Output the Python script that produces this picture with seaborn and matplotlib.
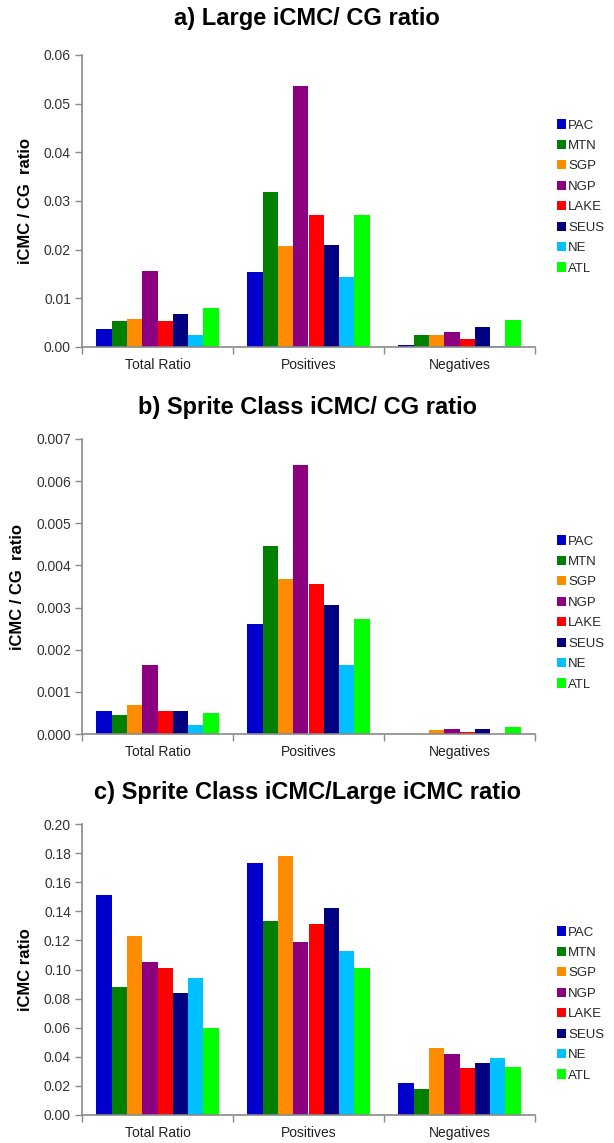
import matplotlib
matplotlib.use("Agg")
import matplotlib.pyplot as plt
import seaborn as sns
import pandas as pd
from matplotlib.ticker import FixedLocator, FormatStrFormatter, MultipleLocator

sns.set_theme(style="white")
plt.rcParams['font.family'] = ['Liberation Sans', 'DejaVu Sans']

categories = ["Total Ratio", "Positives", "Negatives"]
regions = ["PAC", "MTN", "SGP", "NGP", "LAKE", "SEUS", "NE", "ATL"]
colors = ["#0000CC", "#008000", "#FF8C00", "#8C007F", "#FF0000", "#000080", "#00C0FF", "#00FF00"]

# a) Large iCMC / CG ratio
large_total = [0.0036, 0.0054, 0.0057, 0.0157, 0.0053, 0.0067, 0.0024, 0.0081]
large_pos = [0.0154, 0.0318, 0.0207, 0.0536, 0.0272, 0.0210, 0.0144, 0.0272]
large_neg = [0.0004, 0.0024, 0.0024, 0.0031, 0.0017, 0.0042, 0.0003, 0.0056]

# b) Sprite Class iCMC / CG ratio
sprite_total = [0.00055, 0.00046, 0.00069, 0.00164, 0.00055, 0.00055, 0.00022, 0.00051]
sprite_pos = [0.00261, 0.00447, 0.00368, 0.00638, 0.00357, 0.00305, 0.00163, 0.00274]
sprite_neg = [0.0, 0.0, 0.00009, 0.00013, 0.00005, 0.00013, 0.0, 0.00017]

# c) Sprite Class iCMC / Large iCMC ratio
ratio_total = [0.151, 0.088, 0.123, 0.105, 0.101, 0.084, 0.094, 0.060]
ratio_pos = [0.173, 0.133, 0.178, 0.119, 0.131, 0.142, 0.113, 0.101]
ratio_neg = [0.022, 0.018, 0.046, 0.042, 0.032, 0.036, 0.039, 0.033]

titles = ["a) Large iCMC/ CG ratio", "b) Sprite Class iCMC/ CG ratio",
          "c) Sprite Class iCMC/Large iCMC ratio"]
ylabels = ["iCMC / CG  ratio", "iCMC / CG  ratio", "iCMC ratio"]


def long_df(total, pos, neg):
    rows = []
    for cat, vals in zip(categories, [total, pos, neg]):
        for r, v in zip(regions, vals):
            rows.append({"cat": cat, "region": r, "val": v})
    return pd.DataFrame(rows)


panels = [
    (long_df(large_total, large_pos, large_neg), 0.06, 0.01, "%.2f"),
    (long_df(sprite_total, sprite_pos, sprite_neg), 0.007, 0.001, "%.3f"),
    (long_df(ratio_total, ratio_pos, ratio_neg), 0.20, 0.02, "%.2f"),
]

W, H = 614, 1143
fig = plt.figure(figsize=(W / 100, H / 100), dpi=100)
boxes = [(55, 347), (439, 734), (824, 1115)]
title_y = [18, 407, 793]
legend_cy = [197, 613, 1004]
left_px, right_px = 82, 535
palette = dict(zip(regions, colors))

for i, ((df, ymax, step, fmt), (top, bot)) in enumerate(zip(panels, boxes)):
    ax = fig.add_axes([left_px / W, 1 - bot / H, (right_px - left_px) / W, (bot - top) / H])
    sns.barplot(data=df, x="cat", y="val", hue="region", palette=palette,
                order=categories, hue_order=regions, ax=ax, width=0.81,
                saturation=1, linewidth=0, errorbar=None, legend=True)
    ax.set_xlim(-0.5, 2.5)
    ax.set_ylim(0, ymax)
    ax.yaxis.set_major_locator(MultipleLocator(step))
    ax.yaxis.set_major_formatter(FormatStrFormatter(fmt))
    ax.set_xlabel("")
    ax.set_ylabel(ylabels[i], fontsize=12, fontweight="bold", color="black", labelpad=8)
    for s in ["top", "right"]:
        ax.spines[s].set_visible(False)
    for s in ["left", "bottom"]:
        ax.spines[s].set_color("#8a8a8a")
        ax.spines[s].set_linewidth(1.2)
    ax.tick_params(axis="y", which="major", left=True, length=5, width=1, color="#8a8a8a",
                   labelsize=10, labelcolor="#333333", pad=3)
    ax.tick_params(axis="x", which="major", bottom=False, labelsize=10, labelcolor="#222222", pad=2)
    ax.xaxis.set_minor_locator(FixedLocator([-0.5, 0.5, 1.5, 2.5]))
    ax.tick_params(axis="x", which="minor", bottom=True, length=5, width=1, color="#8a8a8a")

    handles, labels = ax.get_legend_handles_labels()
    ax.get_legend().remove()
    fig.legend(handles, labels, loc="center left",
               bbox_to_anchor=(557 / W, 1 - legend_cy[i] / H),
               frameon=False, fontsize=9.5, handlelength=0.7, handleheight=0.7,
               handletextpad=0.15, labelspacing=0.62, borderaxespad=0, borderpad=0)

    fig.text(0.5, 1 - title_y[i] / H, titles[i], ha="center", va="center",
             fontsize=17, fontweight="bold", color="black")

fig.savefig("out.png", dpi=100)
